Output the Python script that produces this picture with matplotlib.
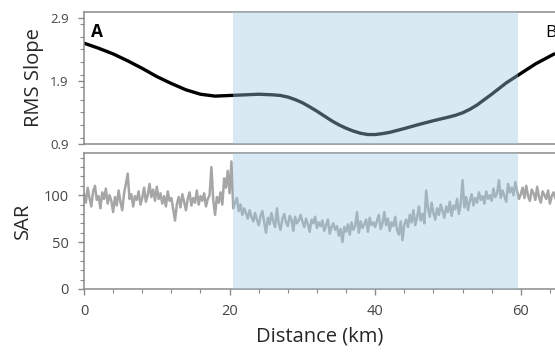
import numpy as np
import matplotlib
matplotlib.use("Agg")
from matplotlib import pyplot as plt
from matplotlib.ticker import MultipleLocator


# RMS slope (km, value)
RMS_DIST = [0, 2, 4, 6, 8, 10, 12, 14, 16, 18, 20, 22, 24, 26, 27, 28, 29, 30, 31,
            32, 33, 34, 35, 36, 37, 38, 39, 40, 41, 42, 44, 46, 48, 50, 51, 52, 53,
            54, 56, 58, 60, 62, 64.6]
RMS_SLOPE = [2.50, 2.42, 2.33, 2.22, 2.10, 1.97, 1.86, 1.76, 1.69, 1.66, 1.67,
             1.68, 1.69, 1.68, 1.67, 1.645, 1.605, 1.555, 1.49, 1.42, 1.345, 1.27,
             1.205, 1.15, 1.105, 1.07, 1.05, 1.05, 1.065, 1.085, 1.145, 1.21, 1.27,
             1.325, 1.355, 1.395, 1.45, 1.52, 1.69, 1.87, 2.02, 2.17, 2.33]

# SAR backscatter, one reading every 0.25 km (rows of 5 km)
SAR_STEP_KM = 0.25
SAR = [
    101, 92, 108, 97, 88, 104, 110, 95, 99, 86, 103, 96, 107, 91, 100, 94, 82, 98, 89, 105,
    93, 84, 102, 112, 123, 96, 101, 88, 99, 95, 104, 90, 97, 108, 93, 100, 112, 98, 106, 94,
    109, 96, 102, 91, 99, 88, 104, 94, 97, 85, 73, 90, 98, 87, 101, 93, 84, 96, 103, 89,
    97, 92, 105, 90, 99, 94, 102, 88, 96, 100, 130, 95, 79, 98, 92, 103, 90, 118, 108, 126,
    102, 136, 86, 92, 97, 83, 90, 79, 86, 81, 75, 84, 77, 72, 81, 74, 68, 78, 83, 71,
    60, 76, 69, 81, 72, 66, 86, 70, 63, 75, 80, 71, 67, 78, 74, 62, 77, 70, 73, 79,
    72, 66, 75, 69, 61, 74, 70, 77, 65, 71, 67, 73, 62, 68, 74, 59, 66, 70, 63, 67,
    57, 64, 50, 66, 61, 69, 58, 71, 63, 67, 82, 60, 72, 65, 69, 74, 61, 76, 68, 71,
    66, 73, 79, 64, 70, 82, 68, 75, 62, 71, 67, 77, 63, 58, 72, 52, 69, 74, 66, 79,
    71, 84, 68, 76, 88, 73, 80, 70, 105, 86, 77, 92, 81, 74, 86, 79, 90, 83, 76, 88,
    82, 93, 78, 89, 85, 96, 80, 91, 116, 87, 98, 84, 94, 101, 89, 97, 92, 103, 95, 99,
    91, 104, 96, 100, 94, 107, 98, 102, 116, 97, 105, 99, 93, 112, 103, 108, 100, 114, 104, 96,
    101, 108, 97, 110, 99, 94, 106, 102, 95, 109, 98, 92, 104, 100, 96, 105, 91, 99, 103, 97,
]

SHADE_START, SHADE_END = 20.5, 59.6
X_MAX = 64.7

plt.rcParams["font.family"] = ["Open Sans", "DejaVu Sans"]

SPINE = "#8a8a8a"
TICK_TXT = "#454545"
LABEL_TXT = "#262626"
SHADE = "#9ecae1"


def style_axis(ax):
    for side in ("left", "top", "bottom"):
        ax.spines[side].set_color(SPINE)
        ax.spines[side].set_linewidth(1.1)
    ax.spines["right"].set_visible(False)
    ax.tick_params(which="both", colors=SPINE, labelcolor=TICK_TXT, labelsize=10.5)
    ax.tick_params(which="major", length=4, width=1)
    ax.tick_params(which="minor", length=3, width=0.8)
    ax.tick_params(axis="y", pad=7)
    ax.set_xlim(0, X_MAX)


fig = plt.figure(figsize=(5.55, 3.52), dpi=100)
ax_top = fig.add_axes([0.1514, 0.5909, 0.8486, 0.375])
ax_bot = fig.add_axes([0.1514, 0.1790, 0.8486, 0.3864])

# --- RMS slope panel
style_axis(ax_top)
ax_top.plot(RMS_DIST, RMS_SLOPE, color="black", lw=2.4, solid_capstyle="round",
            solid_joinstyle="round", zorder=2)
ax_top.axvspan(SHADE_START, SHADE_END, color=SHADE, alpha=0.4, lw=0, zorder=3)
ax_top.set_ylim(0.9, 2.995)
ax_top.yaxis.set_minor_locator(MultipleLocator(0.2))
ax_top.set_yticks([0.9, 1.9, 2.9])
ax_top.set_yticklabels(["0.9", "1.9", "2.9"], fontsize=9.5)
ax_top.tick_params(axis="x", which="both", bottom=False, labelbottom=False)
ax_top.set_ylabel("RMS Slope", fontsize=14.5, color=LABEL_TXT, labelpad=4)
ax_top.text(1.0, 2.6, "A", fontsize=12.5, fontweight="bold", ha="left", va="baseline", zorder=5)
ax_top.text(63.3, 2.6, "B", fontsize=12.5, ha="left", va="baseline", zorder=5)

# --- SAR panel
style_axis(ax_bot)
sar_dist = np.arange(len(SAR)) * SAR_STEP_KM
ax_bot.plot(sar_dist, SAR, color="#a6a6a6", lw=1.8, zorder=2)
ax_bot.axvspan(SHADE_START, SHADE_END, color=SHADE, alpha=0.4, lw=0, zorder=3)
ax_bot.set_ylim(0, 145)
ax_bot.yaxis.set_major_locator(MultipleLocator(50))
ax_bot.yaxis.set_minor_locator(MultipleLocator(10))
ax_bot.xaxis.set_major_locator(MultipleLocator(20))
ax_bot.xaxis.set_minor_locator(MultipleLocator(4))
ax_bot.tick_params(axis="x", pad=7)
ax_bot.set_ylabel("SAR", fontsize=14.5, color=LABEL_TXT, labelpad=8)
ax_bot.set_xlabel("Distance (km)", fontsize=14.5, color=LABEL_TXT, labelpad=5)

fig.savefig("out.png", dpi=100, facecolor="white")
